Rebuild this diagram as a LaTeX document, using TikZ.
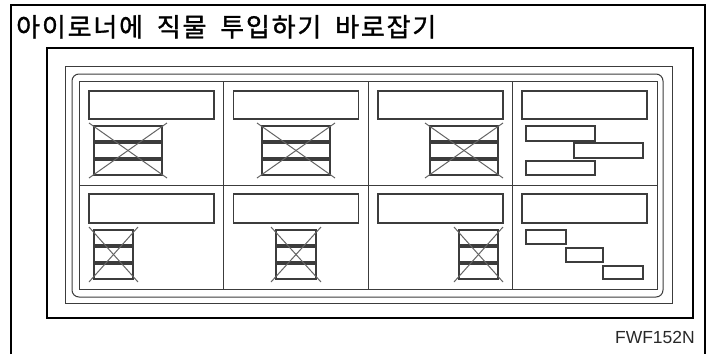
\documentclass[tikz,border=0pt]{standalone}
\usepackage{fontspec}
\setmainfont{Liberation Sans}
\newfontfamily\krfont[FakeBold=1.2,WordSpace=1.8,LetterSpace=7]{Noto Sans CJK KR}
\definecolor{ln}{RGB}{60,60,60}
\definecolor{xln}{RGB}{100,100,100}
\definecolor{txt}{RGB}{40,40,40}
\begin{document}
\begin{tikzpicture}[x=1pt,y=-1pt,
  frameline/.style={line width=2pt,black},
  thickbox/.style={line width=2.4pt,black},
  thinline/.style={line width=1pt,ln},
  labelbox/.style={line width=1.2pt,ln},
  barbox/.style={line width=1.2pt,ln},
  crossline/.style={line width=1pt,xln}]
\useasboundingbox (0,0) rectangle (715,354);
\fill[white] (0,0) rectangle (715,354);
% outer frame
\draw[frameline] (11,354) -- (11,5) -- (705,5) -- (705,354);
\node[anchor=base west,inner sep=0,font=\krfont\fontsize{26}{26}\selectfont] (title) at (16,36.5) {아이로너에 직물 투입하기 바로잡기};
% panel frames
\draw[thickbox] (47,48) rectangle (693,318);
\draw[thinline] (65,66) rectangle (672,303);
\draw[thinline,rounded corners=7pt] (72,74) rectangle (663,297);
\draw[thinline] (79,81) rectangle (657,289);
\draw[thinline] (79,185) -- (657,185);
\foreach \x in {223,368,512} \draw[thinline] (\x,81) -- (\x,289);
% label boxes
\foreach \l in {79,223.5,368,512} {
  \draw[labelbox] (\l+10,91) rectangle (\l+135,119);
  \draw[labelbox] (\l+10,194) rectangle (\l+135,223);
}
% crossed stacks
\foreach \xo/\yo/\w in {94/126/68, 262/126/68, 430/126/68, 94/230/39, 276/230/40, 459/230/39} {
  \draw[barbox] (\xo,\yo) rectangle (\xo+\w,\yo+15);
  \draw[barbox] (\xo,\yo+17) rectangle (\xo+\w,\yo+32);
  \draw[barbox] (\xo,\yo+34) rectangle (\xo+\w,\yo+49);
  \draw[crossline] (\xo-5,\yo-3) -- (\xo+\w+5,\yo+52);
  \draw[crossline] (\xo-5,\yo+52) -- (\xo+\w+5,\yo-3);
}
% correct stacks
\draw[barbox] (526,126) rectangle (595,141);
\draw[barbox] (574,143) rectangle (643,158);
\draw[barbox] (526,161) rectangle (595,175);
\draw[barbox] (526,230) rectangle (566,244);
\draw[barbox] (566,248) rectangle (603,262);
\draw[barbox] (603,266) rectangle (643,279);
\node[anchor=base east,inner sep=0,text=txt,font=\fontsize{17.5}{17.5}\selectfont] (code) at (695,343) {FWF152N};
\end{tikzpicture}
\end{document}
